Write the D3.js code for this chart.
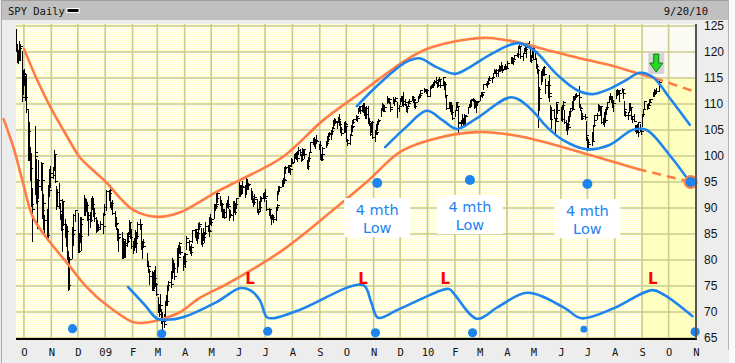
<!DOCTYPE html>
<html>
<head>
<meta charset="utf-8">
<script src="https://cdn.jsdelivr.net/npm/d3@7"></script>
<style>
  body { margin: 0; background: #fff; }
  svg { display: block; }
</style>
</head>
<body>
<div id="wrapper"></div>
<script>
// market holidays inside the window (no bar on these days)
const holidays = ["2008-11-27","2008-12-25","2009-01-01","2009-01-19","2009-02-16","2009-04-10",
  "2009-05-25","2009-07-03","2009-09-07","2009-11-26","2009-12-25","2010-01-01","2010-01-18",
  "2010-02-15","2010-04-02","2010-05-31","2010-07-05","2010-09-06"]

// SPY daily [high, low, close], 2008-09-22 .. 2010-09-20
const spyHLC = [
  // Sep 08
  [124.4,120.1,120.4],[121.6,118.0,118.6],[120.2,117.8,118.5],[122.2,118.6,120.7],[121.5,118.7,121.2],[120.2,110.5,111.4],[116.6,112.0,116.0],
  // Oct 08
  [116.8,113.6,115.8],[115.3,110.8,111.4],[115.5,108.5,109.1],[108.9,99.2,104.9],[106.6,99.3,99.5],[101.7,95.4,97.7],[100.5,90.3,90.7],[93.8,83.6,89.9],
  [101.4,92.6,100.8],[105.7,97.8,100.0],[99.5,91.0,91.4],[95.6,86.1,95.4],[99.2,91.9,94.2],[98.8,93.4,98.6],[98.4,94.5,95.4],[94.6,88.1,89.7],
  [92.7,86.0,90.9],[88.6,84.6,87.6],[89.9,84.5,84.9],[94.5,84.4,94.3],[97.5,92.4,93.5],[97.3,94.4,95.9],[98.1,94.1,96.8],
  // Nov 08
  [97.9,95.7,96.4],[101.2,97.3,100.3],[100.3,95.0,95.2],[94.3,89.9,90.3],[93.7,90.3,93.0],[94.9,90.0,91.5],[91.0,87.8,89.5],[88.8,85.7,85.9],
  [91.8,81.8,91.4],[91.4,86.8,87.0],[87.9,84.5,84.9],[86.9,82.7,85.6],[86.5,80.1,80.3],[81.8,74.3,75.2],[80.5,74.5,80.1],[86.4,80.4,85.0],
  [87.0,82.9,85.7],[88.8,83.9,88.7],[89.7,87.5,89.6],
  // Dec 08
  [89.1,81.5,81.7],[85.2,81.6,85.0],[87.4,83.4,87.0],[88.2,84.2,84.7],[88.3,81.9,87.9],[92.5,88.6,91.3],[92.0,88.6,89.5],[91.8,89.4,90.5],
  [91.2,87.6,87.9],[89.2,84.8,88.7],[89.3,86.3,87.7],[92.0,87.5,91.9],[92.3,89.8,90.7],[91.7,88.5,89.0],[90.0,87.5,88.0],[88.2,85.3,86.5],
  [87.7,85.6,85.9],[86.9,85.7,86.4],[87.5,85.9,87.0],[87.3,85.2,86.6],[89.1,86.5,88.9],[90.8,88.6,90.2],
  // Jan 09
  [93.4,89.6,93.2],[93.5,91.5,92.8],[94.4,92.3,93.5],[92.6,90.2,90.7],[91.2,89.8,91.0],[91.6,88.8,89.0],[89.4,86.6,87.0],[88.3,85.9,87.2],
  [86.2,83.8,84.3],[84.9,81.7,84.4],[86.0,82.7,85.0],[85.4,80.4,80.5],[84.2,80.3,84.0],[83.6,80.6,82.8],[83.8,80.6,83.2],[85.2,82.6,83.7],
  [85.4,83.4,84.6],[87.7,85.0,87.4],[87.2,84.3,84.5],[85.9,82.4,82.6],
  // Feb 09
  [83.7,81.3,82.5],[84.2,81.9,83.9],[85.7,82.7,83.2],[85.3,81.6,84.6],[87.4,84.2,86.9],[87.8,85.9,87.0],[86.9,82.2,82.7],[84.3,82.2,83.4],
  [83.6,80.4,83.5],[84.0,82.5,82.7],[81.3,78.8,78.9],[79.8,78.0,78.8],[79.9,77.6,77.9],[78.2,75.4,77.0],[77.8,74.2,74.3],[77.7,74.4,77.3],
  [78.1,74.6,76.5],[78.8,75.0,75.3],[75.5,73.3,73.5],
  // Mar 09
  [72.9,70.0,70.1],[71.6,69.3,69.6],[73.5,70.3,71.3],[70.6,67.9,68.3],[70.0,66.7,68.3],[69.6,67.1,67.7],[72.2,68.2,72.0],[73.3,71.3,72.1],
  [75.1,71.3,75.1],[75.9,74.3,75.7],[77.4,75.1,75.4],[77.8,74.8,77.8],[80.4,76.6,79.4],[80.0,77.6,78.4],[79.4,76.4,76.9],[82.3,77.7,82.3],
  [82.0,80.3,80.6],[82.9,78.8,81.4],[83.4,81.5,83.3],[82.6,81.2,81.6],[80.8,78.0,78.8],[81.4,79.2,79.8],
  // Apr 09
  [81.3,78.6,81.1],[84.7,82.2,83.4],[84.4,82.5,84.3],[83.9,82.0,83.6],[82.6,81.3,81.6],[83.0,81.0,82.5],[85.7,83.5,85.7],[85.9,84.5,85.9],
  [85.8,83.9,84.2],[85.3,83.2,85.2],[87.1,84.4,86.5],[87.4,86.0,87.0],[86.2,83.1,83.2],[85.2,82.6,85.0],[86.1,83.8,84.4],[85.3,83.4,85.2],
  [87.3,85.0,86.6],[86.8,85.5,85.8],[86.4,84.7,85.5],[88.3,86.4,87.4],[88.8,86.9,87.3],
  // May 09
  [88.0,86.7,87.8],[90.8,88.0,90.7],[90.8,89.7,90.4],[92.0,90.1,92.0],[93.0,90.0,90.7],[93.0,91.2,92.9],[92.4,90.6,90.9],[91.6,89.5,90.8],
  [90.5,88.3,88.4],[89.8,88.3,89.3],[89.8,88.0,88.3],[91.0,88.5,91.0],[91.6,90.2,90.8],[92.4,90.0,90.4],[89.9,87.6,88.8],[89.7,88.3,88.7],
  [91.3,87.6,91.0],[91.3,89.3,89.3],[91.0,88.8,90.7],[91.9,90.0,91.9],
  // Jun 09
  [94.6,92.3,94.3],[95.0,93.6,94.5],[94.0,92.3,93.2],[94.4,92.6,94.3],[95.2,92.9,94.0],[94.4,92.2,93.9],[94.8,93.5,94.2],[95.7,92.6,93.9],
  [95.6,93.7,94.5],[94.8,93.6,94.6],[93.9,91.8,92.4],[93.2,91.1,91.2],[91.9,90.4,91.1],[92.5,90.8,91.8],[92.7,91.4,92.1],[91.8,89.2,89.3],
  [89.8,88.8,89.5],[91.3,89.8,90.1],[92.3,89.6,92.0],[92.2,91.3,91.9],[92.9,91.9,92.7],[93.0,91.3,91.9],
  // Jul 09
  [93.7,92.0,92.3],[91.6,89.6,89.8],[90.0,88.7,89.8],[89.9,88.0,88.1],[88.6,86.9,88.0],[88.9,87.9,88.3],[88.6,87.4,87.9],[90.1,87.6,90.1],
  [90.8,89.6,90.6],[93.3,91.5,93.3],[94.2,92.6,94.1],[94.2,93.3,94.0],[95.3,94.2,95.1],[95.7,94.2,95.5],[95.9,94.8,95.4],[97.8,95.0,97.6],
  [98.0,96.7,97.9],[98.3,97.0,98.2],[98.1,96.9,98.0],[97.6,96.5,97.5],[99.6,98.2,98.7],[99.5,98.6,98.8],
  // Aug 09
  [100.3,99.0,100.3],[100.6,99.6,100.6],[100.8,99.5,100.3],[100.9,99.1,99.7],[101.7,100.3,101.1],[101.3,100.1,100.7],[100.4,99.1,99.5],
  [101.5,99.2,100.6],[101.4,100.2,101.3],[101.3,99.6,100.4],[98.9,97.7,98.0],[99.2,98.2,99.0],[99.8,97.5,99.7],[100.8,99.3,100.7],
  [102.7,101.0,102.6],[103.4,102.3,102.6],[103.7,102.5,102.8],[103.2,102.0,102.8],[103.3,101.5,103.1],[104.1,102.5,102.9],[102.3,101.4,102.1],
  // Sep 09
  [102.9,99.5,99.8],[100.4,99.2,99.5],[100.5,99.3,100.3],[101.8,100.1,101.6],[102.8,101.8,102.5],[103.8,102.1,103.3],[104.5,102.9,104.4],
  [104.7,103.8,104.3],[105.0,103.2,104.9],[105.5,104.3,105.3],[107.0,105.3,106.9],[107.4,106.0,106.6],[107.1,106.4,106.8],[106.7,105.4,106.5],
  [107.5,106.6,107.2],[108.1,106.0,106.1],[106.8,104.6,105.1],[105.5,104.1,104.4],[106.5,104.6,106.3],[106.7,105.5,106.1],[106.4,104.6,105.7],
  // Oct 09
  [105.7,102.9,103.0],[103.3,102.1,102.5],[104.3,102.4,104.1],[106.0,104.3,105.5],[105.8,104.9,105.8],[107.0,105.9,106.6],[107.2,106.3,107.2],
  [107.8,106.9,107.6],[107.6,106.8,107.3],[109.3,108.2,109.2],[109.7,108.6,109.7],[109.4,108.2,108.8],[109.9,108.7,109.8],[110.1,108.5,109.1],
  [110.2,107.9,108.1],[109.4,107.3,109.3],[109.6,107.4,108.0],[109.6,106.3,106.7],[107.3,105.9,106.3],[106.4,104.1,104.3],[106.6,104.7,106.6],
  [106.7,103.5,103.6],
  // Nov 09
  [105.0,102.9,104.3],[104.7,103.6,104.5],[106.1,104.4,104.7],[106.7,105.0,106.7],[107.2,106.1,106.9],[109.3,107.6,109.3],[109.5,108.8,109.3],
  [110.2,109.2,109.9],[110.0,108.6,108.7],[109.7,108.7,109.4],[111.5,110.2,110.9],[111.1,110.3,111.0],[111.1,110.2,111.0],[110.3,109.0,109.5],
  [109.5,108.7,109.1],[111.4,110.1,110.6],[111.0,109.9,110.6],[111.4,110.6,111.1],[110.3,107.5,109.2],[109.8,108.6,109.6],
  // Dec 09
  [111.2,110.0,110.9],[111.5,110.6,110.9],[111.6,109.8,110.0],[112.4,109.6,110.6],[110.9,109.9,110.3],[110.0,108.6,109.2],[109.7,108.5,109.6],
  [110.6,109.8,110.2],[110.9,110.1,110.6],[111.5,110.7,111.4],[111.4,110.4,110.8],[111.6,110.8,110.9],[110.5,109.4,109.6],[110.4,109.3,110.3],
  [111.6,110.5,111.4],[111.9,111.2,111.8],[112.1,111.6,112.1],[112.7,112.1,112.7],[113.0,112.4,112.8],[112.9,112.5,112.6],[112.7,112.1,112.6],
  [112.8,111.5,111.5],
  // Jan 10
  [113.4,111.5,113.3],[113.7,113.0,113.6],[113.9,113.3,113.7],[114.3,113.2,114.2],[114.6,113.7,114.5],[115.1,114.0,114.7],[114.2,113.2,113.6],
  [114.9,113.4,114.6],[115.1,114.4,114.9],[114.8,113.2,113.6],[115.1,113.6,115.1],[114.5,112.8,113.8],[114.3,111.4,111.7],[111.7,109.0,109.2],
  [110.4,109.3,109.7],[110.3,108.7,109.2],[110.1,108.6,109.8],[110.3,108.0,108.5],[109.9,107.2,107.4],
  // Feb 10
  [108.9,107.6,108.9],[110.4,108.8,110.3],[110.4,109.4,109.7],[109.5,106.3,106.3],[106.9,104.6,106.6],[107.0,105.6,105.7],[108.1,106.3,107.1],
  [107.4,106.0,106.8],[108.0,106.2,107.9],[107.7,106.1,107.6],[109.5,108.3,109.5],[110.0,109.4,110.0],[110.7,109.7,110.7],[111.0,109.6,110.9],
  [111.2,110.5,110.8],[110.9,109.2,109.5],[110.6,109.5,110.5],[110.4,108.4,110.3],[110.6,109.9,110.5],
  // Mar 10
  [111.7,110.7,111.6],[112.3,111.6,111.8],[112.3,111.5,111.9],[112.3,111.4,112.3],[113.9,112.8,113.9],[114.0,113.6,113.9],[114.5,113.3,114.0],
  [114.8,114.0,114.6],[115.0,113.8,115.0],[115.3,114.6,115.0],[115.1,114.2,115.1],[116.0,115.0,116.0],[116.8,116.0,116.6],[116.6,115.9,116.6],
  [116.8,115.4,116.0],[116.8,115.3,116.6],[117.5,116.4,117.4],[117.2,116.4,116.8],[118.1,116.6,116.6],[117.5,116.2,116.7],[117.4,116.8,117.3],
  [117.6,116.8,117.3],[117.3,116.8,116.9],
  // Apr 10
  [118.3,117.1,117.8],[118.8,117.8,118.7],[119.1,118.2,118.9],[119.0,117.8,118.2],[118.7,117.6,118.6],[119.5,118.7,119.4],[119.9,119.3,119.7],
  [119.8,119.0,119.7],[121.1,120.0,121.1],[121.3,120.8,121.2],[121.2,118.8,119.2],[119.8,118.4,119.8],[120.8,119.9,120.7],[121.1,120.2,120.6],
  [121.0,119.0,120.9],[121.8,120.6,121.7],[122.1,121.2,121.2],[121.1,118.2,118.4],[119.4,118.1,119.1],[120.8,119.3,120.7],[121.0,118.6,118.7],
  // May 10
  [120.4,118.8,120.2],[118.9,116.9,117.4],[117.7,115.9,116.6],[116.8,105.5,112.8],[113.3,108.8,111.1],[116.3,113.8,116.0],[116.8,114.5,115.6],
  [117.2,115.7,117.2],[117.3,115.5,115.7],[114.9,112.2,113.6],[114.4,111.3,113.7],[115.6,111.8,112.1],[112.8,110.6,111.5],[109.8,107.2,107.2],
  [109.4,105.3,108.8],[109.1,107.3,107.4],[107.4,104.1,107.4],[109.2,106.7,106.8],[110.3,108.1,110.3],[110.0,108.3,108.9],
  // Jun 10
  [109.4,107.0,107.1],[109.8,106.8,109.8],[110.5,109.0,110.3],[108.8,106.3,106.5],[107.0,105.0,105.1],[106.3,104.3,106.2],[107.6,105.4,105.6],
  [108.7,106.8,108.7],[109.2,107.7,109.2],[110.5,108.9,109.0],[111.5,109.1,111.5],[111.6,110.8,111.5],[111.9,110.9,111.6],[112.2,111.4,111.8],
  [113.4,110.8,111.3],[112.2,109.5,109.5],[110.0,108.9,109.2],[108.9,107.2,107.4],[108.3,107.1,107.7],[108.1,107.1,107.5],[106.8,103.9,104.1],
  [104.5,103.0,103.1],
  // Jul 10
  [103.7,101.1,102.7],[103.2,101.6,102.3],[104.7,102.1,102.8],[106.0,102.9,106.0],[107.0,105.8,107.0],[107.9,106.7,107.8],[108.2,107.2,107.9],
  [110.0,108.7,109.5],[109.8,108.9,109.5],[109.7,107.9,109.7],[109.3,106.3,106.5],[107.4,106.2,107.1],[108.4,105.8,108.4],[109.0,106.6,106.9],
  [109.5,108.0,109.4],[110.3,109.1,110.3],[111.6,110.4,111.5],[112.2,111.0,111.4],[111.5,110.4,110.6],[111.6,109.5,110.2],[110.7,108.6,110.2],
  // Aug 10
  [112.6,111.2,112.6],[112.6,111.7,112.0],[112.8,111.9,112.7],[112.6,111.9,112.6],[112.6,110.6,112.2],[113.0,112.3,112.8],[112.7,111.1,112.1],
  [110.5,108.9,109.0],[108.9,107.9,108.4],[108.7,107.7,107.9],[108.4,107.1,107.9],[110.1,108.4,109.3],[110.1,108.9,109.4],[109.5,107.2,107.6],
  [107.5,106.5,107.2],[108.0,106.7,106.7],[105.9,104.8,105.2],[106.0,104.4,105.6],[106.1,104.7,104.7],[106.6,103.9,106.5],[106.2,104.8,104.9],
  [105.3,104.3,104.9],
  // Sep 10
  [108.1,105.8,108.0],[109.0,107.7,109.0],[110.5,109.3,110.5],[110.0,109.1,109.2],[110.1,109.2,109.9],[111.0,110.0,110.4],[111.0,110.3,111.0],
  [112.4,111.6,112.2],[112.9,111.7,112.1],[112.7,111.6,112.6],[112.7,112.0,112.5],[113.0,112.3,112.5],[114.6,112.5,114.3]
]

// long cycle envelope (orange)
const longUpper = [["2008-10-01",120.6],["2008-10-16",114.6],["2008-10-31",109.4],["2008-11-19",103.7],["2008-12-03",99.8],
  ["2008-12-18",97.3],["2009-01-03",94.8],["2009-01-18",91.9],["2009-02-02",89.6],["2009-03-01",88.3],["2009-03-27",89.2],
  ["2009-04-18",91.2],["2009-05-07",93.1],["2009-06-03",95.4],["2009-07-21",99.8],["2009-09-05",106.9],["2009-10-20",112.5],
  ["2009-12-08",118.5],["2010-01-04",120.8],["2010-02-18",122.5],["2010-03-12",122.7],["2010-04-12",121.9],["2010-05-16",120.4],
  ["2010-06-22",118.8],["2010-07-26",117.5],["2010-08-21",116.2],["2010-09-15",115.0]]
const longUpperProj = [["2010-09-15",115.0],["2010-11-01",112.3]]
const longLower = [["2008-09-08",107.1],["2008-09-19",101.7],["2008-09-30",94.8],["2008-10-11",88.3],["2008-10-31",83.3],
  ["2008-11-19",79.4],["2008-12-11",74.8],["2009-01-03",71.3],["2009-02-01",68.1],["2009-02-13",67.9],["2009-03-04",68.5],
  ["2009-03-27",70.0],["2009-04-18",72.7],["2009-05-19",75.4],["2009-07-21",81.9],["2009-09-16",89.6],["2009-10-24",95.0],
  ["2009-12-01",100.8],["2010-01-04",103.1],["2010-02-26",104.6],["2010-04-15",103.8],["2010-06-26",100.6],["2010-08-27",97.5]]
const longLowerProj = [["2010-08-27",97.5],["2010-10-26",95.0]]

// short cycle envelope (blue)
const shortUpper = [["2009-10-13",109.6],["2009-11-08",114.0],["2009-12-08",118.1],["2009-12-23",118.8],["2010-01-11",117.1],
  ["2010-02-01",115.8],["2010-02-18",117.1],["2010-03-12",119.4],["2010-04-13",121.7],["2010-05-01",120.4],["2010-05-28",115.6],
  ["2010-06-19",112.7],["2010-07-07",111.9],["2010-07-26",112.9],["2010-08-14",114.6],["2010-08-29",116.0],["2010-09-13",115.2],
  ["2010-10-02",111.2],["2010-10-25",106.0]]
const shortLower = [["2009-11-14",101.7],["2009-12-08",105.6],["2009-12-31",108.7],["2010-01-18",106.9],["2010-02-03",105.2],
  ["2010-02-26",107.3],["2010-04-06",111.3],["2010-04-27",109.2],["2010-05-16",105.6],["2010-06-03",103.1],["2010-06-30",101.3],
  ["2010-07-26",102.1],["2010-08-21",105.0],["2010-09-06",105.0],["2010-10-02",100.2],["2010-10-25",95.0]]

// cycle wave along the bottom
const cycleWave = [["2009-01-27",74.8],["2009-02-15",71.3],["2009-03-01",68.7],["2009-03-12",68.5],["2009-03-30",69.0],
  ["2009-05-07",71.9],["2009-06-03",74.6],["2009-06-14",74.2],["2009-06-25",72.3],["2009-07-03",69.0],["2009-07-10",68.8],
  ["2009-08-09",70.4],["2009-10-20",75.2],["2009-10-29",72.0],["2009-11-06",68.9],["2009-11-28",70.4],["2010-01-17",74.2],
  ["2010-01-26",74.4],["2010-02-01",73.3],["2010-02-26",68.7],["2010-03-22",71.0],["2010-04-24",73.7],["2010-06-05",70.8],
  ["2010-06-24",68.8],["2010-08-01",70.8],["2010-09-12",74.2],["2010-09-26",73.3],["2010-10-28",69.2]]

const cycleLowDots = [["2008-11-25",66.8,"big"],["2009-03-06",65.8,"big"],["2009-07-04",66.3,"big"],["2009-11-03",66.0,"big"],
  ["2010-02-21",66.0,"big"],["2010-06-27",66.7,"small"],["2010-10-31",66.2,"big"]]
const fourMonthLows = [["2009-11-05",94.8],["2010-02-18",95.4],["2010-07-01",94.6]]
const nextLow = ["2010-10-26",95.0]
const cycleTopDates = ["2009-06-14","2009-10-20","2010-01-21","2010-09-13"]
const arrowAt = ["2010-09-17",119.6]

const xTickLabels = ["O","N","D","09","F","M","A","M","J","J","A","S","O","N","D","10","F","M","A","M","J","J","A","S","O","N"]
const yTicks = [65,70,75,80,85,90,95,100,105,110,115,120,125]

const parseDay = d3.timeParse("%Y-%m-%d")
const fmtDay = d3.timeFormat("%Y-%m-%d")

const tradingDays = d3.timeDay.range(parseDay("2008-09-22"), parseDay("2010-09-21"))
  .filter(d => d.getDay() % 6 !== 0 && !holidays.includes(fmtDay(d)))
console.log(tradingDays.length, spyHLC.length)

const bars = tradingDays.map((d, i) => ({ date: d, high: spyHLC[i][0], low: spyHLC[i][1], close: spyHLC[i][2] }))

const dimensions = {
  width: 735,
  height: 363,
  left: 16,
  right: 696,
  top: 24,
  bottom: 339,
}

const orange = "#ff7d45"
const blue = "#1e84f0"

const wrapper = d3.select("#wrapper")
  .append("svg")
  .attr("width", dimensions.width)
  .attr("height", dimensions.height)

const xScaler = d3.scaleTime()
  .domain([parseDay("2008-09-22"), parseDay("2010-11-01")])
  .range([dimensions.left, dimensions.right])

const yScaler = d3.scaleLinear()
  .domain([65, 125])
  .range([338, 26])

// dithered pale yellow paper
const defs = wrapper.append("defs")
const pat = defs.append("pattern").attr("id", "paper")
  .attr("width", 2).attr("height", 2).attr("patternUnits", "userSpaceOnUse")
pat.append("rect").attr("width", 2).attr("height", 2).attr("fill", "#ffffff")
pat.append("rect").attr("width", 1).attr("height", 1).attr("fill", "#ffffc6")
pat.append("rect").attr("x", 1).attr("y", 1).attr("width", 1).attr("height", 1).attr("fill", "#ffffc6")

// page frame
wrapper.append("rect").attr("width", dimensions.width).attr("height", dimensions.height).attr("fill", "#ededed")
wrapper.append("rect").attr("x", 729).attr("width", 6).attr("height", dimensions.height).attr("fill", "#fafafa")
wrapper.append("line").attr("x1", 728.5).attr("x2", 728.5).attr("y1", 0).attr("y2", 350).attr("stroke", "#b4b4b4")
wrapper.append("line").attr("x1", 1.5).attr("x2", 1.5).attr("y1", 0).attr("y2", dimensions.height).attr("stroke", "#a8a8a8")

// header bar
wrapper.append("rect").attr("x", 2).attr("y", 1).attr("width", 726).attr("height", 19).attr("fill", "#c0c0c0")
wrapper.append("line").attr("x1", 2).attr("x2", 728).attr("y1", 0.5).attr("y2", 0.5).attr("stroke", "#a0a0a0")
wrapper.append("text").attr("x", 8).attr("y", 15)
  .style("font", "10.5px 'DejaVu Sans Mono', monospace").attr("fill", "#111")
  .text("SPY Daily")
wrapper.append("rect").attr("x", 67).attr("y", 8.5).attr("width", 12).attr("height", 4)
  .attr("fill", "#000").attr("stroke", "#fff").attr("stroke-width", 1)
wrapper.append("text").attr("x", 708).attr("y", 15).attr("text-anchor", "end")
  .style("font", "10.5px 'DejaVu Sans Mono', monospace").attr("fill", "#111")
  .text("9/20/10")

// plot background
const plotW = dimensions.right - dimensions.left
const plotH = dimensions.bottom - dimensions.top
wrapper.append("rect").attr("x", dimensions.left).attr("y", dimensions.top)
  .attr("width", plotW).attr("height", plotH).attr("fill", "url(#paper)")

// projection zone after the last cycle top
const zoneX = xScaler(parseDay("2010-09-01"))
wrapper.append("rect").attr("x", zoneX).attr("y", dimensions.top)
  .attr("width", dimensions.right - zoneX).attr("height", yScaler(115) - dimensions.top)
  .attr("fill", "#fbfbf3")
wrapper.append("rect").attr("x", zoneX).attr("y", yScaler(115))
  .attr("width", dimensions.right - zoneX).attr("height", dimensions.bottom - yScaler(115))
  .attr("fill", "#ffffc0")

// grid
const monthStarts = d3.timeMonth.range(parseDay("2008-10-01"), parseDay("2010-11-02"))
const grid = wrapper.append("g").attr("stroke", "#cbcb8e").attr("stroke-width", 1.6)
grid.selectAll("line.v").data(monthStarts).join("line").attr("class", "v")
  .attr("x1", d => xScaler(d)).attr("x2", d => xScaler(d))
  .attr("y1", dimensions.top).attr("y2", dimensions.bottom)
grid.selectAll("line.h").data(yTicks).join("line").attr("class", "h")
  .attr("x1", dimensions.left).attr("x2", dimensions.right)
  .attr("y1", d => yScaler(d)).attr("y2", d => yScaler(d))

// price bars
const barGroup = wrapper.append("g").attr("stroke", "#000").attr("stroke-width", 1).attr("shape-rendering", "crispEdges")
barGroup.selectAll("line.hl").data(bars).join("line").attr("class", "hl")
  .attr("x1", d => Math.round(xScaler(d.date)) + 0.5)
  .attr("x2", d => Math.round(xScaler(d.date)) + 0.5)
  .attr("y1", d => yScaler(d.high))
  .attr("y2", d => yScaler(d.low) + 1)
barGroup.selectAll("line.cl").data(bars).join("line").attr("class", "cl")
  .attr("x1", d => Math.round(xScaler(d.date)) + 0.5)
  .attr("x2", d => Math.round(xScaler(d.date)) + 2.5)
  .attr("y1", d => Math.round(yScaler(d.close)) + 0.5)
  .attr("y2", d => Math.round(yScaler(d.close)) + 0.5)

// curves
const curveGen = d3.line()
  .x(d => xScaler(parseDay(d[0])))
  .y(d => yScaler(d[1]))
  .curve(d3.curveCatmullRom.alpha(0.5))

const curves = wrapper.append("g").attr("fill", "none").attr("stroke-width", 2.6)
  .attr("stroke-linecap", "round").attr("stroke-linejoin", "round")
curves.append("path").attr("d", curveGen(longUpper)).attr("stroke", orange)
curves.append("path").attr("d", curveGen(longLower)).attr("stroke", orange)
curves.append("path").attr("d", curveGen(longUpperProj)).attr("stroke", orange)
  .attr("stroke-dasharray", "9 6").attr("stroke-linecap", "butt")
curves.append("path").attr("d", curveGen(longLowerProj)).attr("stroke", orange)
  .attr("stroke-dasharray", "9 6").attr("stroke-linecap", "butt")
curves.append("path").attr("d", curveGen(shortUpper)).attr("stroke", blue)
curves.append("path").attr("d", curveGen(shortLower)).attr("stroke", blue)
curves.append("path").attr("d", curveGen(cycleWave)).attr("stroke", blue)

// cycle low markers
wrapper.append("g").selectAll("circle").data(cycleLowDots).join("circle")
  .attr("cx", d => xScaler(parseDay(d[0])))
  .attr("cy", d => yScaler(d[1]))
  .attr("r", d => d[2] === "big" ? 4.6 : 3.4)
  .attr("fill", blue)

wrapper.append("g").selectAll("circle").data(fourMonthLows).join("circle")
  .attr("cx", d => xScaler(parseDay(d[0])))
  .attr("cy", d => yScaler(d[1]))
  .attr("r", 5)
  .attr("fill", blue)

// "4 mth Low" notes
const notes = wrapper.append("g").selectAll("g").data(fourMonthLows).join("g")
  .attr("transform", d => `translate(${xScaler(parseDay(d[0]))}, ${yScaler(d[1])})`)
notes.append("rect").attr("x", -33).attr("y", 15).attr("width", 66).attr("height", 39).attr("fill", "#fff")
notes.append("text").attr("y", 32).attr("text-anchor", "middle")
  .style("font", "14.5px 'DejaVu Sans', sans-serif").attr("fill", blue).text("4 mth")
notes.append("text").attr("y", 50).attr("text-anchor", "middle")
  .style("font", "14.5px 'DejaVu Sans', sans-serif").attr("fill", blue).text("Low")

// projected next low
wrapper.append("circle")
  .attr("cx", xScaler(parseDay(nextLow[0])))
  .attr("cy", yScaler(nextLow[1]))
  .attr("r", 6).attr("fill", blue).attr("stroke", orange).attr("stroke-width", 2)

// red L on each cycle top
wrapper.append("g").selectAll("text").data(cycleTopDates).join("text")
  .attr("x", d => xScaler(parseDay(d)))
  .attr("y", yScaler(75.3))
  .attr("text-anchor", "middle")
  .style("font", "bold 15px 'DejaVu Sans', sans-serif")
  .attr("fill", "#ff0000")
  .text("L")

// green arrow
const ax = xScaler(parseDay(arrowAt[0]))
const ay = yScaler(arrowAt[1])
const arrow = wrapper.append("g").attr("transform", `translate(${ax}, ${ay})`)
arrow.append("rect").attr("x", -8).attr("y", -2).attr("width", 16).attr("height", 22).attr("rx", 2).attr("fill", "#d4d4d4")
arrow.append("path")
  .attr("d", "M-2.5,0 L2.5,0 L2.5,9 L6.5,9 L0,18 L-6.5,9 L-2.5,9 Z")
  .attr("fill", "#22dd22").attr("stroke", "#117711").attr("stroke-width", 1)

// axes
const xAxis = wrapper.append("g")
  .attr("transform", `translate(0, ${dimensions.bottom})`)
  .call(d3.axisBottom(xScaler).tickValues(monthStarts).tickSize(0).tickPadding(10)
    .tickFormat((d, i) => xTickLabels[i]))
xAxis.select(".domain").remove()
xAxis.selectAll("text").style("font", "10.5px 'DejaVu Sans Mono', monospace").attr("fill", "#111")

const yAxis = wrapper.append("g")
  .attr("transform", `translate(${dimensions.right}, 0)`)
  .call(d3.axisRight(yScaler).tickValues(yTicks).tickSize(0).tickPadding(8))
yAxis.select(".domain").remove()
yAxis.selectAll("text").style("font", "12px 'Liberation Sans', Arial, sans-serif").attr("fill", "#111")

// frame lines
wrapper.append("line").attr("x1", dimensions.left).attr("x2", dimensions.right + 1)
  .attr("y1", dimensions.bottom).attr("y2", dimensions.bottom).attr("stroke", "#000").attr("stroke-width", 2)
wrapper.append("line").attr("x1", dimensions.right).attr("x2", dimensions.right)
  .attr("y1", dimensions.top).attr("y2", dimensions.bottom).attr("stroke", "#555").attr("stroke-width", 2)
</script>
</body>
</html>
